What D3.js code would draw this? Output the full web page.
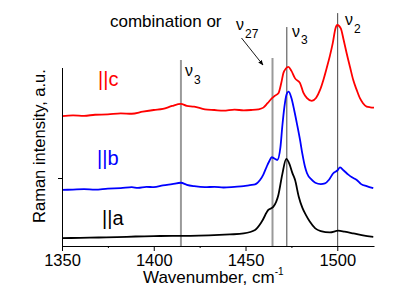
<!DOCTYPE html>
<html>
<head>
<meta charset="utf-8">
<script src="https://cdn.jsdelivr.net/npm/d3@7"></script>
<style>
  body { margin: 0; background: #fff; }
  svg { display: block; font-family: "Liberation Sans", Arial, sans-serif; }
</style>
</head>
<body>
<svg class="chart"></svg>
<script>
// Raman spectra, three polarisations (intensity in a.u., curves offset)
var wnA = [1350, 1360, 1370, 1380, 1390, 1400, 1410, 1420, 1430, 1441.5, 1449, 1455.2, 1458.8, 1462.4, 1465.1, 1467.9, 1470, 1472.2, 1474, 1475.5, 1477, 1479, 1481, 1483, 1485, 1488, 1491, 1496, 1500.5, 1504, 1508.7, 1514, 1519.6];
var intA = [0.23, 0.24, 0.25, 0.26, 0.28, 0.29, 0.30, 0.30, 0.31, 0.34, 0.37, 0.47, 0.71, 1.06, 1.15, 1.5, 2.1, 2.56, 2.4, 2.15, 1.94, 1.45, 1.12, 0.9, 0.72, 0.52, 0.44, 0.40, 0.45, 0.42, 0.37, 0.31, 0.27];

var wnB = [1350, 1356, 1362, 1368, 1375, 1382, 1388, 1391.4, 1396, 1400, 1405, 1410, 1414.8, 1418, 1422, 1427.9, 1433, 1438, 1444, 1449, 1452.4, 1455.2, 1457.9, 1459.7, 1461.5, 1463, 1464.3, 1465.5, 1467.3, 1469, 1470, 1471.2, 1472.3, 1473.5, 1475, 1476.5, 1478, 1479.7, 1481, 1482.4, 1483.5, 1486, 1488, 1491, 1493.3, 1495.5, 1497.8, 1500, 1501.5, 1503.5, 1506, 1508, 1510.6, 1513, 1516, 1519.6];
var intB = [1.65, 1.66, 1.67, 1.66, 1.69, 1.70, 1.73, 1.71, 1.74, 1.73, 1.78, 1.82, 1.86, 1.80, 1.76, 1.73, 1.74, 1.72, 1.74, 1.76, 1.79, 1.81, 1.94, 2.1, 2.33, 2.5, 2.61, 2.58, 2.53, 2.9, 3.5, 4.1, 4.45, 4.54, 4.35, 4.0, 3.6, 3.12, 2.7, 2.33, 2.14, 1.95, 1.86, 1.82, 1.84, 1.95, 2.14, 2.22, 2.31, 2.22, 2.1, 2.02, 1.94, 1.82, 1.76, 1.70];

var wnC = [1350, 1356, 1362, 1368, 1375, 1382, 1388, 1394, 1400, 1405, 1410, 1414.8, 1418, 1422, 1427.9, 1433, 1438, 1444, 1449, 1453, 1457, 1459.7, 1462, 1464.3, 1466, 1467.9, 1469.5, 1470.6, 1472, 1473.3, 1475, 1477, 1479.7, 1481.5, 1483.5, 1486.1, 1488.5, 1490.6, 1492.5, 1494.2, 1496, 1497.5, 1499, 1500, 1501.9, 1503.5, 1505.1, 1507, 1508.7, 1510.5, 1512.4, 1514, 1516, 1518, 1520];
var intC = [3.82, 3.84, 3.83, 3.86, 3.87, 3.90, 3.89, 3.95, 4.0, 4.03, 4.12, 4.18, 4.12, 4.10, 4.02, 4.00, 3.98, 4.01, 3.99, 4.0, 4.02, 4.07, 4.2, 4.34, 4.42, 4.49, 4.8, 5.08, 5.22, 5.27, 5.15, 4.93, 4.79, 4.51, 4.35, 4.27, 4.36, 4.59, 4.9, 5.23, 5.6, 5.96, 6.4, 6.5, 6.40, 6.05, 5.67, 5.25, 4.88, 4.6, 4.34, 4.2, 4.10, 4.08, 4.07];

var seriesNames = ["||a", "||b", "||c"];
var seriesColors = ["#000000", "#0000ff", "#ff0000"];

// vertical band markers: position and top (in intensity units)
var markWn = [1414.8, 1464.7, 1472.5, 1500.2];
var markTop = [5.47, 5.53, 6.44, 6.85];

var majorTicks = [1350, 1400, 1450, 1500];
var minorTicks = [1375, 1425, 1475];

var svgWidth = 415, svgHeight = 289;

var svg = d3.select(".chart")
  .attr("width", svgWidth)
  .attr("height", svgHeight);

var xScale = d3.scaleLinear()
  .domain([1350, 1520])
  .range([62, 374]);

var yScale = d3.scaleLinear()
  .domain([0, 5.25])
  .range([246, 67.5]);

// marker lines
svg.selectAll("line.mark")
  .data(markWn)
  .enter()
  .append("line")
  .attr("class", "mark")
  .attr("x1", function (d) { return xScale(d); })
  .attr("x2", function (d) { return xScale(d); })
  .attr("y1", yScale(0))
  .attr("y2", function (d, i) { return yScale(markTop[i]); })
  .attr("stroke", function (d, i) { return i < 2 ? "#9a9a9a" : "#444"; })
  .attr("stroke-width", function (d, i) { return i < 2 ? 2 : 1; });

// spectra
var line = d3.line()
  .x(function (d) { return xScale(d[0]); })
  .y(function (d) { return yScale(d[1]); })
  .curve(d3.curveMonotoneX);

var curves = [d3.zip(wnA, intA), d3.zip(wnB, intB), d3.zip(wnC, intC)];

svg.selectAll("path.spec")
  .data(curves)
  .enter()
  .append("path")
  .attr("class", "spec")
  .attr("d", line)
  .attr("fill", "none")
  .attr("stroke", function (d, i) { return seriesColors[i]; })
  .attr("stroke-width", 1.8)
  .attr("stroke-linejoin", "round");

// axes
var xMajor = d3.axisBottom(xScale).tickValues(majorTicks).tickSize(5).tickSizeOuter(0).tickFormat(d3.format("d"));
var xMinor = d3.axisBottom(xScale).tickValues(minorTicks).tickSize(2).tickFormat("");
var yAxis = d3.axisLeft(yScale).tickValues([2]).tickSize(4).tickSizeOuter(0).tickFormat("");

var gx = svg.append("g")
  .attr("transform", "translate(0," + yScale(0) + ")")
  .call(xMajor);
gx.selectAll("text").attr("font-size", 16.5).attr("font-family", null).attr("fill", "#000");
gx.selectAll("line, path").attr("stroke", "#000");

svg.append("g")
  .attr("transform", "translate(0," + yScale(0) + ")")
  .call(xMinor)
  .select(".domain").remove();

var gy = svg.append("g")
  .attr("transform", "translate(62,0)")
  .call(yAxis);
gy.selectAll("line, path").attr("stroke", "#000");

// axis titles
var xt = svg.append("text")
  .attr("x", 143)
  .attr("y", 283)
  .attr("font-size", 17)
  .text("Wavenumber, cm");
xt.append("tspan")
  .attr("font-size", 10)
  .attr("dy", -8)
  .text("-1");

svg.append("text")
  .attr("transform", "translate(45,146) rotate(-90)")
  .attr("text-anchor", "middle")
  .attr("font-size", 16.5)
  .text("Raman intensity, a.u.");

// series labels
var labelPos = [[102, 225], [97, 165], [98, 86]];
svg.selectAll("text.series")
  .data(seriesNames)
  .enter()
  .append("text")
  .attr("class", "series")
  .attr("x", function (d, i) { return labelPos[i][0]; })
  .attr("y", function (d, i) { return labelPos[i][1]; })
  .attr("font-size", 20)
  .attr("fill", function (d, i) { return seriesColors[i]; })
  .text(function (d) { return d; });

// band labels
function nu(x, y, sub) {
  var t = svg.append("text").attr("x", x).attr("y", y).attr("font-size", 16);
  t.append("tspan").text("\u03bd");
  t.append("tspan").attr("font-size", 12).attr("dy", 7.5).attr("dx", 1).text(sub);
}
nu(185, 76, "3");
nu(292, 36.5, "3");
nu(345, 25, "2");

svg.append("text")
  .attr("x", 110)
  .attr("y", 27)
  .attr("font-size", 17)
  .text("combination or");
nu(236, 30, "27");

// arrow to the combination band
svg.append("defs").append("marker")
  .attr("id", "ah")
  .attr("viewBox", "0 0 10 10")
  .attr("refX", 9).attr("refY", 5)
  .attr("markerWidth", 6).attr("markerHeight", 6)
  .attr("orient", "auto")
  .append("path")
  .attr("d", "M0,1 L10,5 L0,9 z")
  .attr("fill", "#000");

svg.append("line")
  .attr("x1", 241.5).attr("y1", 38)
  .attr("x2", 263).attr("y2", 65)
  .attr("stroke", "#000")
  .attr("stroke-width", 0.9)
  .attr("marker-end", "url(#ah)");
</script>
</body>
</html>
